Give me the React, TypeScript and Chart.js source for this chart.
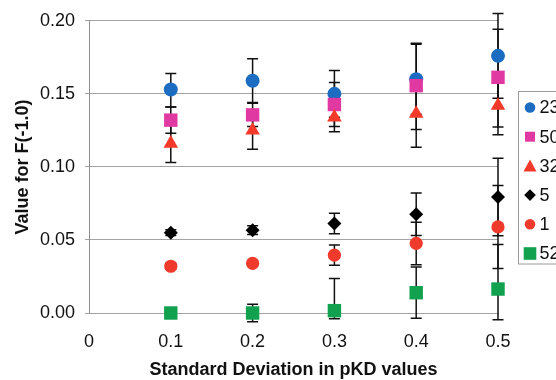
import React, { useEffect, useRef } from 'react';
import { Chart, registerables } from 'chart.js';

Chart.register(...registerables);

// Standard deviation levels on the x axis
const sdValues = [0.1, 0.2, 0.3, 0.4, 0.5];
const xTickLabels = ['0', '0.1', '0.2', '0.3', '0.4', '0.5'];
const yTickLabels = ['0.00', '0.05', '0.10', '0.15', '0.20'];
const seriesNames = ['23', '50', '32', '5', '1', '52'];

// F(-1.0) values and error bar extents per series
const f23 = [0.153, 0.159, 0.15, 0.16, 0.176];
const f23Up = [0.011, 0.015, 0.016, 0.024, 0.029];
const f23Down = [0.012, 0.015, 0.016, 0.024, 0.029];

const f50 = [0.132, 0.1356, 0.1427, 0.1556, 0.1613];
const f50Up = [0.009, 0.008, 0.015, 0.029, 0.033];
const f50Down = [0.009, 0.008, 0.015, 0.03, 0.034];

const f32 = [0.116, 0.125, 0.134, 0.1365, 0.142];
const f32Up = [0.013, 0.013, 0.01, 0.023, 0.02];
const f32Down = [0.013, 0.013, 0.01, 0.023, 0.02];

const f5 = [0.055, 0.0567, 0.0612, 0.0676, 0.0794];
const f5Up = [0.002, 0.003, 0.007, 0.0145, 0.0266];
const f5Down = [0.002, 0.003, 0.007, 0.0145, 0.0266];

const f1 = [0.032, 0.034, 0.0396, 0.0476, 0.0589];
const f1Up = [0.002, 0.002, 0.007, 0.0145, 0.0284];
const f1Down = [0.002, 0.002, 0.007, 0.0145, 0.0284];

const f52 = [0.0, 0.0, 0.0016, 0.0139, 0.0164];
const f52Up = [0.001, 0.006, 0.022, 0.0175, 0.0305];
const f52Down = [0.001, 0.006, 0.0055, 0.0175, 0.021];

const FONT = "'Liberation Sans', Arial, Helvetica, sans-serif";

type Series = {
  name: string;
  values: number[];
  up: number[];
  down: number[];
  style: 'circle' | 'rect' | 'triangle' | 'rectRot';
  color: string;
  radius: number;
  legendSize: number;
};

const series: Series[] = [
  { name: seriesNames[0], values: f23, up: f23Up, down: f23Down, style: 'circle', color: '#1c6cc2', radius: 7, legendSize: 5.3 },
  { name: seriesNames[1], values: f50, up: f50Up, down: f50Down, style: 'rect', color: '#e03aa2', radius: 9.5, legendSize: 5 },
  { name: seriesNames[2], values: f32, up: f32Up, down: f32Down, style: 'triangle', color: '#f2392a', radius: 8.4, legendSize: 6.5 },
  { name: seriesNames[3], values: f5, up: f5Up, down: f5Down, style: 'rectRot', color: '#000000', radius: 7, legendSize: 5.8 },
  { name: seriesNames[4], values: f1, up: f1Up, down: f1Down, style: 'circle', color: '#f03b2c', radius: 6.6, legendSize: 5.3 },
  { name: seriesNames[5], values: f52, up: f52Up, down: f52Down, style: 'rect', color: '#11a14f', radius: 9.5, legendSize: 6.3 },
];

const errorBarPlugin = {
  id: 'errorBars',
  beforeDatasetsDraw(chart: any) {
    const { ctx, scales } = chart;
    const xs = scales.x;
    const ys = scales.y;
    ctx.save();
    ctx.strokeStyle = '#111111';
    ctx.lineWidth = 1.5;
    const cap = 5.5;
    series.forEach((s) => {
      s.values.forEach((v, i) => {
        const px = xs.getPixelForValue(sdValues[i]);
        const top = ys.getPixelForValue(v + s.up[i]);
        const bot = ys.getPixelForValue(v - s.down[i]);
        ctx.beginPath();
        ctx.moveTo(px, top);
        ctx.lineTo(px, bot);
        ctx.moveTo(px - cap, top);
        ctx.lineTo(px + cap, top);
        ctx.moveTo(px - cap, bot);
        ctx.lineTo(px + cap, bot);
        ctx.stroke();
      });
    });
    ctx.restore();
  },
};

function drawMarker(ctx: CanvasRenderingContext2D, style: Series['style'], x: number, y: number, r: number) {
  ctx.beginPath();
  if (style === 'circle') {
    ctx.arc(x, y, r, 0, Math.PI * 2);
  } else if (style === 'rect') {
    ctx.rect(x - r, y - r, 2 * r, 2 * r);
  } else if (style === 'triangle') {
    const h = r * 1.7;
    ctx.moveTo(x, y - h / 2 - 1);
    ctx.lineTo(x + r, y + h / 2);
    ctx.lineTo(x - r, y + h / 2);
    ctx.closePath();
  } else {
    ctx.moveTo(x, y - r);
    ctx.lineTo(x + r, y);
    ctx.lineTo(x, y + r);
    ctx.lineTo(x - r, y);
    ctx.closePath();
  }
  ctx.fill();
}

const sideLegendPlugin = {
  id: 'sideLegend',
  afterDraw(chart: any) {
    const { ctx, chartArea } = chart;
    const left = chartArea.right + 20.5;
    const top = 91.5;
    const rowGap = 29.2;
    ctx.save();
    ctx.strokeStyle = '#9a9a9a';
    ctx.lineWidth = 1;
    ctx.strokeRect(left, top, 80, 172.5);
    ctx.font = `18px ${FONT}`;
    ctx.textBaseline = 'middle';
    ctx.textAlign = 'left';
    series.forEach((s, i) => {
      const cy = top + 16 + i * rowGap;
      ctx.fillStyle = s.color;
      drawMarker(ctx, s.style, left + 11.5, cy, s.legendSize);
      ctx.fillStyle = '#111111';
      ctx.fillText(s.name, left + 21, cy + 1);
    });
    ctx.restore();
  },
};

export default function App() {
  const canvasRef = useRef<HTMLCanvasElement | null>(null);

  useEffect(() => {
    const canvas = canvasRef.current;
    if (!canvas) return;

    const chart = new Chart(canvas, {
      type: 'scatter',
      data: {
        datasets: series.map((s, idx) => ({
          label: s.name,
          data: s.values.map((v, i) => ({ x: sdValues[i], y: v })),
          pointStyle: s.style,
          pointRadius: s.radius,
          pointHoverRadius: s.radius,
          backgroundColor: s.color,
          borderColor: s.color,
          borderWidth: 0,
          showLine: false,
          clip: false as any,
          order: -idx,
        })),
      },
      options: {
        responsive: false,
        animation: false,
        events: [],
        layout: { padding: { left: 0, top: 20, right: 58, bottom: 0 } },
        plugins: {
          legend: { display: false },
          tooltip: { enabled: false },
        },
        scales: {
          x: {
            type: 'linear',
            min: 0,
            max: 0.5,
            grid: { display: false },
            border: { display: true, color: '#a3a3a3', width: 1 },
            ticks: {
              stepSize: 0.1,
              padding: 10,
              color: '#111111',
              font: { family: FONT, size: 18 },
              maxRotation: 0,
              callback: (_v: any, i: number) => xTickLabels[i],
            },
            title: {
              display: true,
              text: 'Standard Deviation in pKD values',
              color: '#111111',
              font: { family: FONT, size: 18, weight: 'bold' },
              padding: { top: 0, bottom: -1 },
            },
            afterFit: (scale: any) => {
              scale.height = 67;
            },
          },
          y: {
            type: 'linear',
            min: 0,
            max: 0.2,
            grid: { color: '#a3a3a3', lineWidth: 1, tickLength: 4, drawTicks: true },
            border: { display: true, color: '#8e8e8e', width: 1 },
            ticks: {
              stepSize: 0.05,
              padding: 10,
              color: '#111111',
              font: { family: FONT, size: 18 },
              callback: (_v: any, i: number) => yTickLabels[i],
            },
            title: {
              display: true,
              text: 'Value for F(-1.0)',
              color: '#111111',
              font: { family: FONT, size: 18, weight: 'bold' },
              padding: { top: 12, bottom: 0 },
            },
            afterFit: (scale: any) => {
              scale.width = 89;
            },
          },
        },
      },
      plugins: [errorBarPlugin, sideLegendPlugin],
    } as any);

    return () => chart.destroy();
  }, []);

  return (
    <div
      style={{
        position: 'fixed',
        left: 0,
        top: 0,
        width: 556,
        height: 380,
        overflow: 'hidden',
        background: '#ffffff',
      }}
    >
      <canvas ref={canvasRef} width={556} height={380} style={{ display: 'block' }} />
    </div>
  );
}
